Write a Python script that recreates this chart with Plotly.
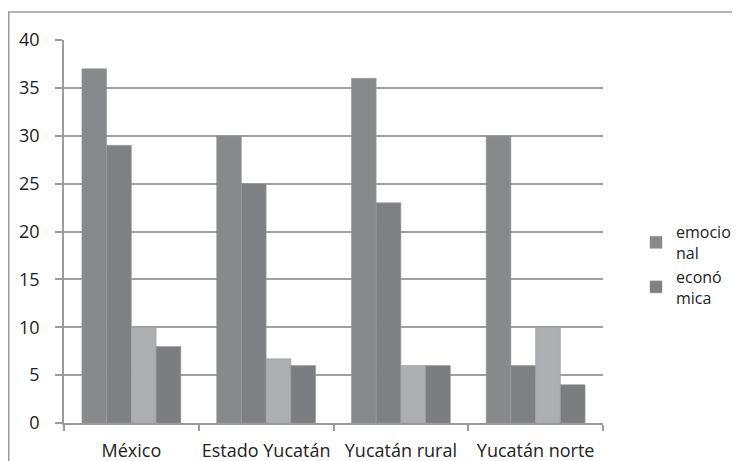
import plotly.graph_objects as go

categories = ["México", "Estado Yucatán", "Yucatán rural", "Yucatán norte"]
series_names = ["emocio<br>nal", "econó<br>mica", "serie 3", "serie 4"]
emocional = [37, 30, 36, 30]
economica = [29, 25, 23, 6]
serie3 = [10, 6.7, 6, 10]
serie4 = [8, 6, 6, 4]
y_ticks = [0, 5, 10, 15, 20, 25, 30, 35, 40]

colors = ["#88898d", "#7f8084", "#adaeb2", "#7c7d81"]
values = [emocional, economica, serie3, serie4]
legend_flags = [True, True, False, False]

fig = go.Figure()
for name, vals, col, show in zip(series_names, values, colors, legend_flags):
    fig.add_trace(go.Bar(
        x=categories, y=vals, name=name,
        marker=dict(color=col, line=dict(color="#9a9b9f", width=0.6)),
        showlegend=show,
    ))

# the page has an 8px body margin: figure occupies page px 8..740, 8..461
W, H = 732, 453
l, r, t, b = 56, 137, 32, 38
pw, ph = W - l - r, H - t - b

fig.update_layout(
    width=W, height=H,
    margin=dict(l=l, r=r, t=t, b=b, pad=0, autoexpand=False),
    paper_bgcolor="white", plot_bgcolor="white",
    barmode="group", bargap=0.266, bargroupgap=0,
    font=dict(family="Open Sans, Liberation Sans, sans-serif", size=18, color="#222222"),
    legend=dict(xref="container", yref="container",
                x=628 / W, y=1 - 207 / H, xanchor="left", yanchor="top",
                font=dict(size=16), bgcolor="rgba(0,0,0,0)", tracegroupgap=0,
                itemwidth=30),
    xaxis=dict(showline=True, linecolor="#9a9a9a", linewidth=1.5, ticks="outside",
               tickson="boundaries", ticklen=6, tickcolor="#9a9a9a", tickwidth=1.5,
               showgrid=False, tickfont=dict(size=18), tickangle=0, ticklabelstandoff=11),
    yaxis=dict(range=[0, 40], tickvals=y_ticks, showline=True, linecolor="#9a9a9a",
               linewidth=1.5, ticks="outside", ticklen=7, tickcolor="#9a9a9a", tickwidth=1.5,
               showgrid=True, gridcolor="#a0a0a0", gridwidth=1.5, zeroline=False,
               tickfont=dict(size=18), ticklabelstandoff=12),
    shapes=[dict(type="rect", xref="paper", yref="paper",
                 x0=(0.75 - l) / pw, x1=(W + 20 - l) / pw,
                 y0=-0.3, y1=(H - b - 4) / ph,
                 line=dict(color="#9a9a9a", width=1.5), fillcolor="rgba(0,0,0,0)", layer="below")],
)

fig.write_html("out.html")
